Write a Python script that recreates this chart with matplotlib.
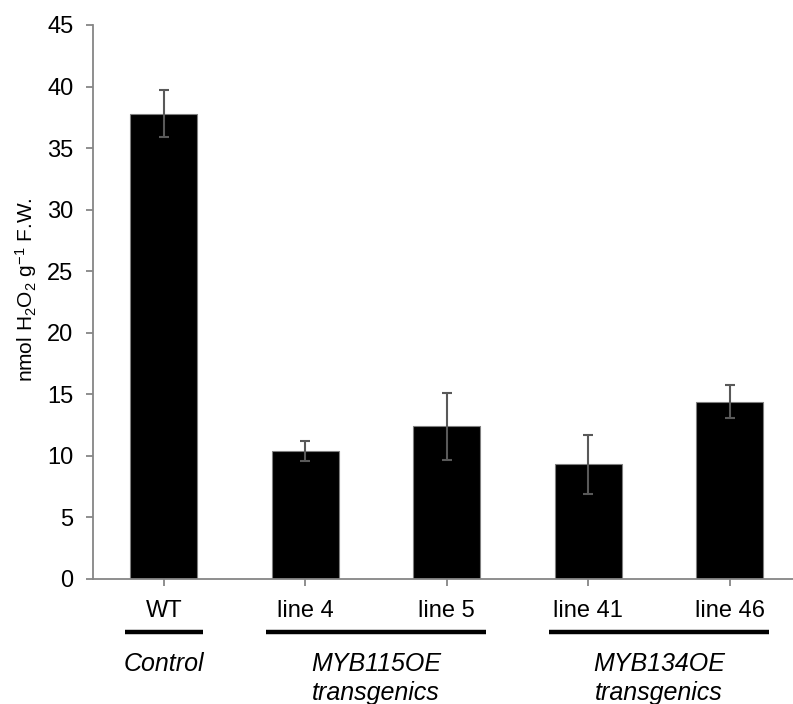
import matplotlib.pyplot as plt
import matplotlib.transforms as mtransforms

categories = ["WT", "line 4", "line 5", "line 41", "line 46"]
values = [37.8, 10.4, 12.4, 9.3, 14.4]
errors = [1.9, 0.8, 2.7, 2.4, 1.35]

groups = [("Control", ""), ("MYB115OE", "transgenics"), ("MYB134OE", "transgenics")]
group_spans = [(0, 0), (1, 2), (3, 4)]

plt.rcParams["font.family"] = ["Liberation Sans", "DejaVu Sans"]
plt.rcParams["mathtext.fontset"] = "custom"
plt.rcParams["mathtext.rm"] = "Liberation Sans"
plt.rcParams["mathtext.it"] = "Liberation Sans:italic"

AXIS_GREY = "#868686"
ERR_GREY = "#595959"

fig = plt.figure(figsize=(7.93, 7.04), dpi=100)
ax = fig.add_axes([0.1173, 0.1776, 0.8922, 0.7869])

x = list(range(len(categories)))
ax.bar(x, values, width=0.475, color="black", edgecolor="#7f7f7f", linewidth=0.8, zorder=2)
ax.errorbar(x, values, yerr=errors, fmt="none", ecolor=ERR_GREY, elinewidth=1.5,
            capsize=3.6, capthick=1.5, zorder=3)

ax.set_xlim(-0.5, len(categories) - 0.5)
ax.set_ylim(0, 45)
ax.set_yticks(range(0, 46, 5))
ax.set_xticks(x)
ax.set_xticklabels(categories)

for side in ("top", "right"):
    ax.spines[side].set_visible(False)
for side in ("left", "bottom"):
    ax.spines[side].set_color(AXIS_GREY)
    ax.spines[side].set_linewidth(1.3)

ax.tick_params(axis="both", colors=AXIS_GREY, labelcolor="black", labelsize=17,
               length=5, width=1.3, direction="out")
ax.tick_params(axis="x", pad=10)
ax.tick_params(axis="y", pad=9)

ax.set_ylabel("nmol H$_\\mathrm{2}$O$_\\mathrm{2}$ g$^\\mathrm{-1}$ F.W.", fontsize=15)
ax.yaxis.set_label_coords(-0.077, 0.523)

trans = mtransforms.blended_transform_factory(ax.transData, ax.transAxes)
for (line1, line2), (i0, i1) in zip(groups, group_spans):
    ax.plot([i0 - 0.275, i1 + 0.275], [-0.0957, -0.0957], color="black", linewidth=3.2,
            transform=trans, clip_on=False, solid_capstyle="butt")
    xc = (i0 + i1) / 2
    ax.text(xc, -0.1534, line1, transform=trans, ha="center", va="center",
            fontsize=18, fontstyle="italic")
    if line2:
        ax.text(xc, -0.2058, line2, transform=trans, ha="center", va="center",
                fontsize=18, fontstyle="italic")

fig.savefig("out.png", dpi=100)
